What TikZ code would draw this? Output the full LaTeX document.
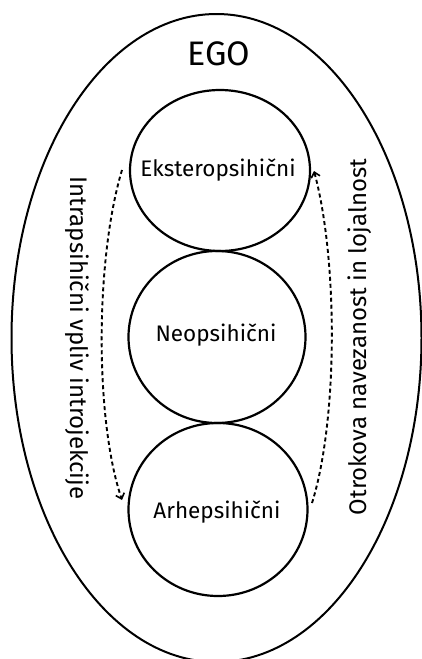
\documentclass[tikz,border=0pt]{standalone}
\usepackage{fontspec}
\setmainfont{Fira Sans}
\usetikzlibrary{shapes.geometric,arrows.meta}
\tikzset{
  layer/.style={draw, ellipse, line width=2.2pt, inner sep=0pt},
  circtext/.style={font=\fontsize{22.5}{26}\selectfont},
  sidetext/.style={font=\fontsize{24}{28}\selectfont, inner sep=0pt},
  flow/.style={line width=1.9pt, dash pattern=on 4pt off 3pt, -{Straight Barb[length=5pt,width=9pt,line width=1.6pt]}},
}
\begin{document}
\begin{tikzpicture}[x=1pt,y=-1pt]
\useasboundingbox (0,0) rectangle (422,659);
\node[layer, minimum width=410pt, minimum height=648pt, line width=2pt] (ego) at (216.5,338) {};
\node[font=\fontsize{34}{40}\selectfont] (egol) at (219,54) {EGO};
\node[layer, minimum width=180pt, minimum height=161pt] (ext) at (220,170.5) {};
\node[layer, minimum width=177pt, minimum height=172pt] (neo) at (217,337) {};
\node[layer, minimum width=179pt, minimum height=173pt] (arh) at (218,509.5) {};
\node[circtext] (extl) at (218,170) {Eksteropsihični};
\node[circtext] (neol) at (216,335) {Neopsihični};
\node[circtext] (arhl) at (217,512) {Arhepsihični};
\node[sidetext, rotate=-90] (left) at (77,338) {Intrapsihični vpliv introjekcije};
\node[sidetext, rotate=90] (right) at (360,337) {Otrokova navezanost in lojalnost};
\coordinate (a1) at (122,170);
\coordinate (a2) at (122,500);
\coordinate (b1) at (312,503);
\coordinate (b2) at (314,171);
\draw[flow] (a1) .. controls (95,260) and (95,420) .. (a2);
\draw[flow] (b1) .. controls (338,420) and (338,260) .. (b2);
\end{tikzpicture}
\end{document}
